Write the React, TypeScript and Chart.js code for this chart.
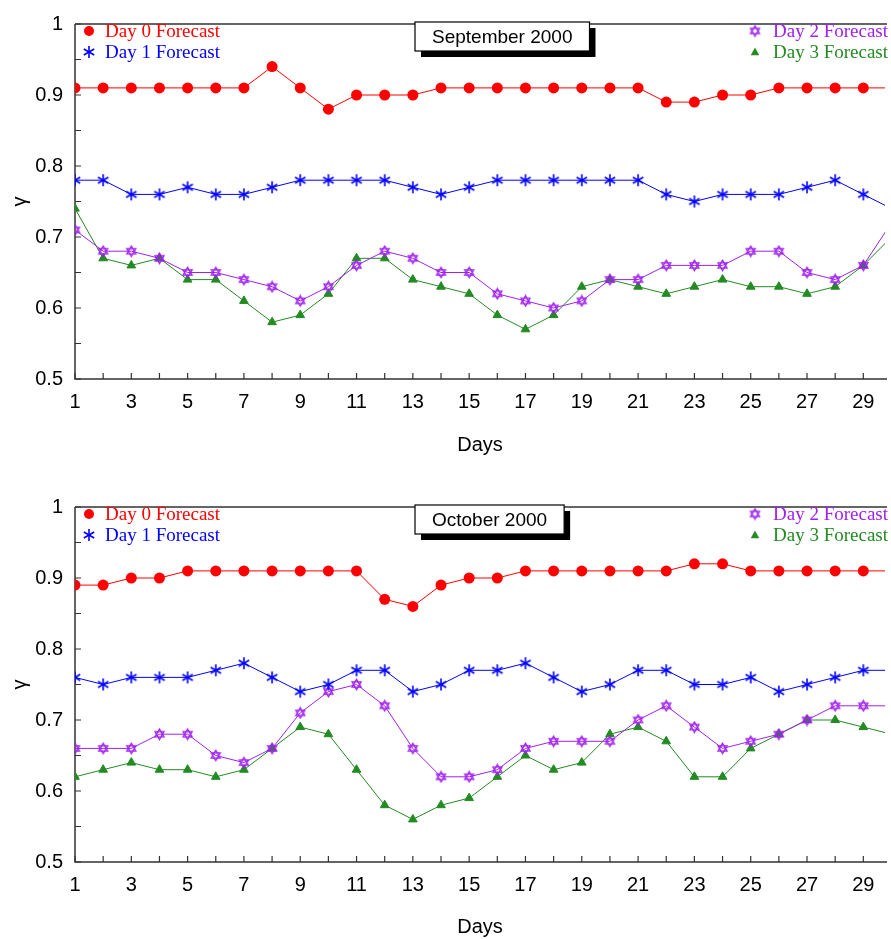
import React, { useEffect, useRef } from "react";
import { Chart, registerables } from "chart.js";

Chart.register(...registerables);

// ---------- data ----------
const days = [1, 2, 3, 4, 5, 6, 7, 8, 9, 10, 11, 12, 13, 14, 15, 16, 17, 18, 19, 20, 21, 22, 23, 24, 25, 26, 27, 28, 29, 30];
const xTickValues = [1, 3, 5, 7, 9, 11, 13, 15, 17, 19, 21, 23, 25, 27, 29];
const xTickLabels = ["1", "3", "5", "7", "9", "11", "13", "15", "17", "19", "21", "23", "25", "27", "29"];
const xMinorTicks = [1, 2, 3, 4, 5, 6, 7, 8, 9, 10, 11, 12, 13, 14, 15, 16, 17, 18, 19, 20, 21, 22, 23, 24, 25, 26, 27, 28, 29, 30];
const yTickValues = [0.5, 0.6, 0.7, 0.8, 0.9, 1];
const yTickLabels = ["0.5", "0.6", "0.7", "0.8", "0.9", "1"];
const yMinorTicks = [0.5, 0.55, 0.6, 0.65, 0.7, 0.75, 0.8, 0.85, 0.9, 0.95, 1];
const xAxisTitle = "Days";
const yAxisTitle = "γ";

const seriesNames = ["Day 0 Forecast", "Day 1 Forecast", "Day 2 Forecast", "Day 3 Forecast"];
const seriesColors = ["#ff0000", "#0000ff", "#a020f0", "#228b22"];

const sepDay0 = [0.91, 0.91, 0.91, 0.91, 0.91, 0.91, 0.91, 0.94, 0.91, 0.88, 0.90, 0.90, 0.90, 0.91, 0.91, 0.91, 0.91, 0.91, 0.91, 0.91, 0.91, 0.89, 0.89, 0.90, 0.90, 0.91, 0.91, 0.91, 0.91, 0.91];
const sepDay1 = [0.78, 0.78, 0.76, 0.76, 0.77, 0.76, 0.76, 0.77, 0.78, 0.78, 0.78, 0.78, 0.77, 0.76, 0.77, 0.78, 0.78, 0.78, 0.78, 0.78, 0.78, 0.76, 0.75, 0.76, 0.76, 0.76, 0.77, 0.78, 0.76, 0.74];
const sepDay2 = [0.71, 0.68, 0.68, 0.67, 0.65, 0.65, 0.64, 0.63, 0.61, 0.63, 0.66, 0.68, 0.67, 0.65, 0.65, 0.62, 0.61, 0.60, 0.61, 0.64, 0.64, 0.66, 0.66, 0.66, 0.68, 0.68, 0.65, 0.64, 0.66, 0.72];
const sepDay3 = [0.74, 0.67, 0.66, 0.67, 0.64, 0.64, 0.61, 0.58, 0.59, 0.62, 0.67, 0.67, 0.64, 0.63, 0.62, 0.59, 0.57, 0.59, 0.63, 0.64, 0.63, 0.62, 0.63, 0.64, 0.63, 0.63, 0.62, 0.63, 0.66, 0.70];

const octDay0 = [0.89, 0.89, 0.90, 0.90, 0.91, 0.91, 0.91, 0.91, 0.91, 0.91, 0.91, 0.87, 0.86, 0.89, 0.90, 0.90, 0.91, 0.91, 0.91, 0.91, 0.91, 0.91, 0.92, 0.92, 0.91, 0.91, 0.91, 0.91, 0.91, 0.91];
const octDay1 = [0.76, 0.75, 0.76, 0.76, 0.76, 0.77, 0.78, 0.76, 0.74, 0.75, 0.77, 0.77, 0.74, 0.75, 0.77, 0.77, 0.78, 0.76, 0.74, 0.75, 0.77, 0.77, 0.75, 0.75, 0.76, 0.74, 0.75, 0.76, 0.77, 0.77];
const octDay2 = [0.66, 0.66, 0.66, 0.68, 0.68, 0.65, 0.64, 0.66, 0.71, 0.74, 0.75, 0.72, 0.66, 0.62, 0.62, 0.63, 0.66, 0.67, 0.67, 0.67, 0.70, 0.72, 0.69, 0.66, 0.67, 0.68, 0.70, 0.72, 0.72, 0.72];
const octDay3 = [0.62, 0.63, 0.64, 0.63, 0.63, 0.62, 0.63, 0.66, 0.69, 0.68, 0.63, 0.58, 0.56, 0.58, 0.59, 0.62, 0.65, 0.63, 0.64, 0.68, 0.69, 0.67, 0.62, 0.62, 0.66, 0.68, 0.70, 0.70, 0.69, 0.68];

const panelTitles = ["September 2000", "October 2000"];

// ---------- styling ----------
const SANS = "'Liberation Sans', Arial, Helvetica, sans-serif";
const SERIF = "'Liberation Serif', 'Times New Roman', serif";
const AXIS_COLOR = "#333333";

function makeHexagram(color: string): HTMLCanvasElement {
  const c = document.createElement("canvas");
  c.width = 13;
  c.height = 13;
  const ctx = c.getContext("2d")!;
  const cx = 6.5, cy = 6.5, r = 5.2;
  ctx.strokeStyle = color;
  ctx.lineWidth = 1.3;
  for (const start of [-90, 90]) {
    ctx.beginPath();
    for (let k = 0; k < 3; k++) {
      const a = ((start + k * 120) * Math.PI) / 180;
      const px = cx + r * Math.cos(a);
      const py = cy + r * Math.sin(a);
      if (k === 0) ctx.moveTo(px, py);
      else ctx.lineTo(px, py);
    }
    ctx.closePath();
    ctx.stroke();
  }
  return c;
}

function makeAsterisk(color: string): HTMLCanvasElement {
  const c = document.createElement("canvas");
  c.width = 14;
  c.height = 14;
  const ctx = c.getContext("2d")!;
  const cx = 7, cy = 7, r = 6;
  ctx.strokeStyle = color;
  ctx.lineWidth = 1.6;
  for (const deg of [90, 30, 150]) {
    const a = (deg * Math.PI) / 180;
    ctx.beginPath();
    ctx.moveTo(cx - r * Math.cos(a), cy - r * Math.sin(a));
    ctx.lineTo(cx + r * Math.cos(a), cy + r * Math.sin(a));
    ctx.stroke();
  }
  return c;
}

type PanelSpec = {
  title: string;
  series: number[][];
  height: number;
  xAxisHeight: number;
  daysPad: number;
};

function drawMarker(ctx: CanvasRenderingContext2D, i: number, x: number, y: number, imgs: HTMLCanvasElement[]) {
  ctx.save();
  ctx.fillStyle = seriesColors[i];
  if (i === 0) {
    ctx.beginPath();
    ctx.arc(x, y, 5, 0, Math.PI * 2);
    ctx.fill();
  } else if (i === 3) {
    const r = 4.5;
    ctx.beginPath();
    ctx.moveTo(x, y - r);
    ctx.lineTo(x + r * 0.95, y + r * 0.7);
    ctx.lineTo(x - r * 0.95, y + r * 0.7);
    ctx.closePath();
    ctx.fill();
  } else {
    const img = imgs[i];
    ctx.drawImage(img, x - img.width / 2, y - img.height / 2);
  }
  ctx.restore();
}

function buildConfig(panel: PanelSpec, imgs: HTMLCanvasElement[]): any {
  const framePlugin = {
    id: "frame",
    beforeDatasetsDraw(chart: any) {
      const { ctx, chartArea } = chart;
      const xs = chart.scales.x;
      const ys = chart.scales.y;
      ctx.save();
      ctx.strokeStyle = AXIS_COLOR;
      ctx.lineWidth = 1.5;
      ctx.beginPath();
      ctx.moveTo(chartArea.left, chartArea.top);
      ctx.lineTo(chartArea.right + 2, chartArea.top);
      ctx.moveTo(chartArea.left, chartArea.top);
      ctx.lineTo(chartArea.left, chartArea.bottom);
      ctx.lineTo(chartArea.right + 2, chartArea.bottom);
      ctx.stroke();
      ctx.lineWidth = 1.2;
      ctx.beginPath();
      for (const d of xMinorTicks) {
        const px = xs.getPixelForValue(d);
        if (px > chartArea.right + 1) continue;
        ctx.moveTo(px, chartArea.bottom);
        ctx.lineTo(px, chartArea.bottom - 6);
      }
      for (const v of yMinorTicks) {
        const py = ys.getPixelForValue(v);
        ctx.moveTo(chartArea.left, py);
        ctx.lineTo(chartArea.left + 6, py);
      }
      ctx.stroke();
      ctx.restore();
    },
  };

  const overlayPlugin = {
    id: "overlay",
    afterDraw(chart: any) {
      const { ctx, chartArea } = chart;
      ctx.save();
      // legends
      ctx.font = `19px ${SERIF}`;
      ctx.textBaseline = "middle";
      ctx.textAlign = "left";
      const rows = [31, 52];
      const groups = [
        { ids: [0, 1], mx: chartArea.left + 14, tx: chartArea.left + 30 },
        { ids: [2, 3], mx: chartArea.left + 680, tx: chartArea.left + 698 },
      ];
      for (const g of groups) {
        g.ids.forEach((id, k) => {
          drawMarker(ctx, id, g.mx, rows[k], imgs);
          ctx.fillStyle = seriesColors[id];
          ctx.fillText(seriesNames[id], g.tx, rows[k] + 1);
        });
      }
      // title box
      ctx.font = `19px ${SANS}`;
      const tw = ctx.measureText(panel.title).width;
      const bx = chartArea.left + 340;
      const by = 22;
      const bw = tw + 34;
      const bh = 29;
      ctx.fillStyle = "#000";
      ctx.fillRect(bx + 6, by + 6, bw, bh);
      ctx.fillStyle = "#fff";
      ctx.fillRect(bx, by, bw, bh);
      ctx.strokeStyle = "#000";
      ctx.lineWidth = 1.2;
      ctx.strokeRect(bx, by, bw, bh);
      ctx.fillStyle = "#000";
      ctx.textAlign = "center";
      ctx.fillText(panel.title, bx + bw / 2, by + bh / 2 + 1);
      ctx.restore();
    },
  };

  const pointStyles: any[] = ["circle", imgs[1], imgs[2], "triangle"];
  const pointRadii = [5.5, 6, 6, 5];

  return {
    type: "line",
    data: {
      datasets: panel.series.map((vals, i) => ({
        label: seriesNames[i],
        data: days.map((d, j) => ({ x: d, y: vals[j] })),
        borderColor: seriesColors[i],
        backgroundColor: seriesColors[i],
        borderWidth: 1,
        pointStyle: pointStyles[i],
        pointRadius: pointRadii[i],
        pointBorderWidth: i === 3 ? 1 : 0,
        pointBorderColor: seriesColors[i],
        pointBackgroundColor: seriesColors[i],
        fill: false,
        tension: 0,
      })),
    },
    options: {
      responsive: false,
      animation: false,
      events: [],
      layout: { padding: { left: 0, top: 17, right: 0, bottom: 0 } },
      plugins: {
        legend: { display: false },
        tooltip: { enabled: false },
        title: { display: false },
      },
      scales: {
        x: {
          type: "linear",
          min: 1,
          max: 29.77,
          grid: { display: false, drawTicks: false },
          border: { display: false },
          afterBuildTicks: (s: any) => {
            s.ticks = xTickValues.map((v) => ({ value: v }));
          },
          afterFit: (s: any) => {
            s.height = panel.xAxisHeight;
          },
          ticks: {
            autoSkip: false,
            maxRotation: 0,
            minRotation: 0,
            padding: 11,
            color: "#000",
            font: { family: SANS, size: 20 },
            callback: (v: number) => xTickLabels[xTickValues.indexOf(v)],
          },
          title: {
            display: true,
            text: xAxisTitle,
            color: "#000",
            font: { family: SANS, size: 20 },
            padding: { top: 0, bottom: panel.daysPad },
          },
        },
        y: {
          type: "linear",
          min: 0.5,
          max: 1,
          grid: { display: false, drawTicks: false },
          border: { display: false },
          afterBuildTicks: (s: any) => {
            s.ticks = yTickValues.map((v) => ({ value: v }));
          },
          afterFit: (s: any) => {
            s.width = 75;
          },
          ticks: {
            padding: 12,
            color: "#000",
            font: { family: SANS, size: 20 },
            callback: (v: number) => yTickLabels[yTickValues.indexOf(v)],
          },
          title: {
            display: true,
            text: yAxisTitle,
            color: "#000",
            font: { family: SANS, size: 20 },
            padding: { top: 8, bottom: 0 },
          },
        },
      },
    },
    plugins: [framePlugin, overlayPlugin],
  };
}

function Panel({ panel }: { panel: PanelSpec }) {
  const ref = useRef<HTMLCanvasElement | null>(null);
  useEffect(() => {
    if (!ref.current) return;
    const imgs = [
      document.createElement("canvas"),
      makeAsterisk(seriesColors[1]),
      makeHexagram(seriesColors[2]),
      document.createElement("canvas"),
    ];
    const chart = new Chart(ref.current, buildConfig(panel, imgs));
    return () => chart.destroy();
  }, [panel]);
  return (
    <canvas
      ref={ref}
      width={891}
      height={panel.height}
      style={{ display: "block", width: 891, height: panel.height }}
    />
  );
}

const panels: PanelSpec[] = [
  { title: panelTitles[0], series: [sepDay0, sepDay1, sepDay2, sepDay3], height: 483, xAxisHeight: 104, daysPad: 26 },
  { title: panelTitles[1], series: [octDay0, octDay1, octDay2, octDay3], height: 456, xAxisHeight: 77, daysPad: 0 },
];

export default function App() {
  return (
    <div
      style={{
        position: "absolute",
        left: 0,
        top: 0,
        width: 891,
        height: 939,
        overflow: "hidden",
        background: "#fff",
      }}
    >
      {panels.map((p) => (
        <Panel key={p.title} panel={p} />
      ))}
    </div>
  );
}
